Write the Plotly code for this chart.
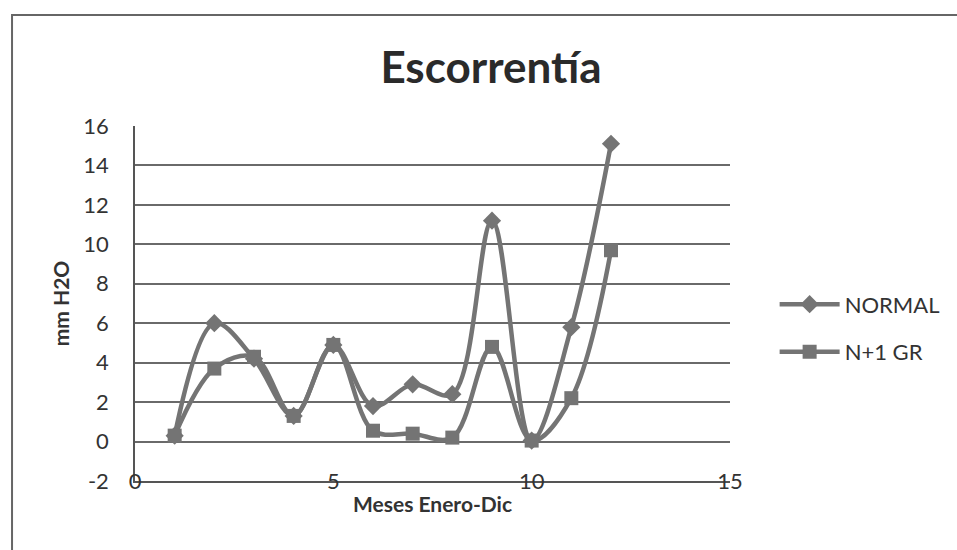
import plotly.graph_objects as go

months = [1, 2, 3, 4, 5, 6, 7, 8, 9, 10, 11, 12]
normal = [0.3, 6.0, 4.2, 1.3, 4.9, 1.8, 2.9, 2.4, 11.2, 0.05, 5.8, 15.1]
n1gr = [0.3, 3.7, 4.3, 1.3, 4.9, 0.55, 0.4, 0.2, 4.8, 0.05, 2.2, 9.7]
series_names = ["NORMAL", "N+1 GR"]
x_ticks = [0, 5, 10, 15]
y_ticks = [-2, 0, 2, 4, 6, 8, 10, 12, 14, 16]

line_col = "#747474"
font_fam = "Lato, 'Open Sans', sans-serif"

fig = go.Figure()
fig.add_trace(go.Scatter(
    x=months, y=normal, name=series_names[0], mode="lines+markers",
    legendgroup="a",
    line=dict(color=line_col, width=4.5, shape="spline", smoothing=1),
    marker=dict(symbol="diamond", size=14, color=line_col),
))
fig.add_trace(go.Scatter(
    x=months, y=n1gr, name=series_names[1], mode="lines+markers",
    legendgroup="b",
    line=dict(color=line_col, width=4.5, shape="spline", smoothing=1),
    marker=dict(symbol="square", size=14, color=line_col),
))

fig.update_layout(
    width=957, height=550,
    margin=dict(l=135, r=222, t=126, b=69),
    paper_bgcolor="white", plot_bgcolor="white",
    font=dict(family=font_fam, color="#333333"),
    title=dict(text="<b>Escorrentía</b>", x=(491 / 957), xanchor="center",
               y=1 - 68 / 550, yanchor="middle",
               font=dict(size=44, color="#2a2a2a", family=font_fam)),
    legend=dict(x=1.075, xanchor="left", y=0.43, yanchor="middle",
                font=dict(size=22, color="#333333"), bgcolor="rgba(0,0,0,0)",
                tracegroupgap=16, itemwidth=60),
    shapes=[dict(type="rect", xref="paper", yref="paper",
                 x0=(11 - 135) / 600, x1=(975 - 135) / 600,
                 y0=-(580 - 481) / 355, y1=1 + (126 - 15) / 355,
                 line=dict(color="#666666", width=2), layer="below")],
)

fig.update_xaxes(
    range=[0, 15], tickvals=x_ticks, ticktext=[str(v) for v in x_ticks],
    showgrid=False, zeroline=False, showline=True, linecolor="#555555",
    linewidth=1.5, ticks="", ticklabelstandoff=-20,
    tickfont=dict(size=22, color="#333333"),
    title=dict(text="<b>Meses Enero-Dic</b>", font=dict(size=21, color="#333333"),
               standoff=4),
)
fig.update_yaxes(
    range=[-2, 16], tickvals=y_ticks, ticktext=[str(v) for v in y_ticks],
    showgrid=True, gridcolor="#6a6a6a", gridwidth=1.5, zeroline=False,
    showline=True, linecolor="#555555", linewidth=1.5, ticks="",
    ticklabelstandoff=20,
    tickfont=dict(size=22, color="#333333"),
    title=dict(text="<b>mm H2O</b>", font=dict(size=21, color="#333333"),
               standoff=8),
)

fig.write_html("out.html", config={"displayModeBar": False},
               post_script="document.body.style.margin='0';")
